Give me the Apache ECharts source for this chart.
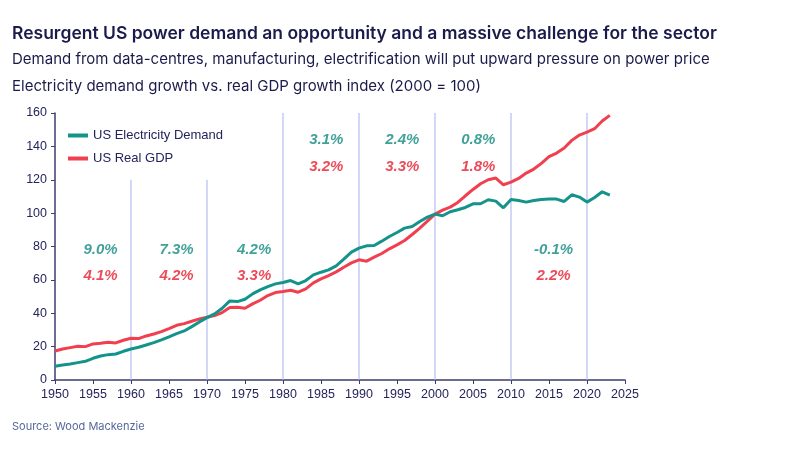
<!DOCTYPE html>
<html>
<head>
<meta charset="utf-8">
<script src="https://cdn.jsdelivr.net/npm/echarts@6/dist/echarts.min.js"></script>
<style>
  html, body { margin: 0; padding: 0; background: #fff; }
  #main { width: 800px; height: 450px; }
</style>
</head>
<body>
<div id="main"></div>
<script>
var years = [];
for (var y = 1950; y <= 2023; y++) years.push(y);

// index, 2000 = 100
var demand = [
    8.2, 9.0, 9.6, 10.4, 11.2, 13.0, 14.4, 15.2, 15.6, 17.2,
    18.6, 19.6, 21.0, 22.4, 24.0, 25.8, 27.8, 29.4, 32.0, 34.8,
    37.4, 39.6, 43.0, 47.4, 47.0, 48.4, 51.6, 54.0, 56.0, 57.6,
    58.4, 59.6, 57.6, 59.6, 63.0, 64.6, 66.0, 68.4, 72.4, 76.6,
    79.0, 80.4, 80.6, 83.2, 86.0, 88.4, 91.0, 92.0, 95.0, 97.6,
    99.4, 98.4, 100.8, 102.0, 103.4, 105.6, 105.6, 108.0, 107.2, 103.2,
    108.2, 107.6, 106.6, 107.6, 108.2, 108.4, 108.4, 107.0, 111.0, 109.6,
    106.6, 109.4, 112.8, 110.8
];
var gdp = [
    17.4, 18.6, 19.4, 20.2, 20.0, 21.6, 22.0, 22.6, 22.2, 23.8,
    25.0, 24.8, 26.4, 27.6, 29.0, 30.8, 32.8, 33.8, 35.2, 36.6,
    37.6, 38.6, 40.4, 43.4, 43.6, 43.0, 45.6, 47.8, 50.6, 52.4,
    53.0, 53.8, 52.6, 54.6, 58.2, 60.6, 62.6, 64.8, 67.6, 70.2,
    72.0, 71.2, 73.6, 75.8, 78.6, 81.0, 83.6, 87.2, 91.0, 95.2,
    99.4, 101.8, 103.6, 106.4, 110.4, 114.2, 117.6, 120.0, 121.0, 117.0,
    118.6, 120.8, 124.0, 126.4, 129.8, 133.8, 136.0, 139.0, 143.6, 146.8,
    148.6, 150.6, 155.2, 158.6
];

// decade dividers and how high each one goes
var dividerYears = [1960, 1970, 1980, 1990, 2000, 2010, 2020];
var dividerTops = [120, 120, 160, 160, 160, 160, 160];

// growth rate labels per period
var periodX = [1956, 1966, 1976.2, 1985.7, 1995.7, 2005.7, 2015.6];
var demandRates = ['9.0%', '7.3%', '4.2%', '3.1%', '2.4%', '0.8%', '-0.1%'];
var gdpRates = ['4.1%', '4.2%', '3.3%', '3.2%', '3.3%', '1.8%', '2.2%'];
var demandRateY = [78, 78, 78, 144, 144, 144, 78];
var gdpRateY = [62.5, 62.5, 62.5, 128, 128, 128, 62.5];

var teal = '#14938a';
var red = '#f0404f';
var navy = '#24245c';
var dividerColor = '#a7b0f0';

function pairs(xs, ys) {
    var out = [];
    for (var i = 0; i < xs.length; i++) out.push([xs[i], ys[i]]);
    return out;
}

function labelData(xs, ys, texts) {
    var out = [];
    for (var i = 0; i < xs.length; i++) out.push({ value: [xs[i], ys[i]], name: texts[i] });
    return out;
}

var rateLabel = function (color) {
    return {
        show: true,
        position: 'inside',
        formatter: '{b}',
        color: color,
        fontFamily: 'Arial, Liberation Sans',
        fontSize: 15,
        fontWeight: 'bold',
        fontStyle: 'italic'
    };
};

var series = [];

// thin vertical dividers, each a two-point line
for (var i = 0; i < dividerYears.length; i++) {
    series.push({
        name: 'divider' + dividerYears[i],
        type: 'line',
        data: [[dividerYears[i], 0], [dividerYears[i], dividerTops[i]]],
        symbol: 'none',
        silent: true,
        z: 1,
        lineStyle: { color: dividerColor, width: 1 },
        itemStyle: { color: dividerColor },
        emphasis: { disabled: true }
    });
}

series.push({
    name: 'US Electricity Demand',
    type: 'line',
    data: pairs(years, demand),
    symbol: 'none',
    lineStyle: { color: teal, width: 3 },
    itemStyle: { color: teal },
    z: 3
});
series.push({
    name: 'US Real GDP',
    type: 'line',
    data: pairs(years, gdp),
    symbol: 'none',
    lineStyle: { color: red, width: 3 },
    itemStyle: { color: red },
    z: 2
});
series.push({
    name: 'demand rates',
    type: 'scatter',
    symbolSize: 0,
    silent: true,
    data: labelData(periodX, demandRateY, demandRates),
    label: rateLabel('#118a80')
});
series.push({
    name: 'gdp rates',
    type: 'scatter',
    symbolSize: 0,
    silent: true,
    data: labelData(periodX, gdpRateY, gdpRates),
    label: rateLabel('#e61e2d')
});

var myChart = echarts.init(document.getElementById('main'));

var option = {
    backgroundColor: '#fff',
    animation: false,
    title: [
        {
            text: 'Resurgent US power demand an opportunity and a massive challenge for the sector',
            left: 7, top: 20,
            textStyle: { fontFamily: 'Inter', fontSize: 17.5, fontWeight: 600, color: '#1b1b4b' }
        },
        {
            text: 'Demand from data-centres, manufacturing, electrification will put upward pressure on power price',
            left: 7, top: 47,
            textStyle: { fontFamily: 'Inter', fontSize: 15, fontWeight: 400, color: '#1b1b4b' }
        },
        {
            text: 'Electricity demand growth vs. real GDP growth index (2000 = 100)',
            left: 7, top: 74,
            textStyle: { fontFamily: 'Inter', fontSize: 15, fontWeight: 400, color: '#1b1b4b' }
        },
        {
            text: 'Source: Wood Mackenzie',
            left: 7, top: 416,
            textStyle: { fontFamily: 'Inter', fontSize: 11, fontWeight: 400, color: '#56679a' }
        }
    ],
    legend: {
        data: ['US Electricity Demand', 'US Real GDP'],
        orient: 'vertical',
        left: 63,
        top: 124,
        itemWidth: 20,
        itemHeight: 4,
        itemGap: 10,
        icon: 'rect',
        textStyle: { fontFamily: 'Arial, Liberation Sans', fontSize: 13, color: navy }
    },
    grid: { left: 55, right: 175, top: 113, bottom: 70, containLabel: false },
    xAxis: {
        type: 'value',
        min: 1950,
        max: 2025,
        interval: 5,
        axisLine: { lineStyle: { color: '#3c3c6e', width: 1.5 } },
        axisTick: { show: true, length: 4, lineStyle: { color: '#3c3c6e' } },
        axisLabel: {
            color: navy, fontFamily: 'Arial, Liberation Sans', fontSize: 12.5, margin: 8,
            formatter: function (v) { return String(v); }
        },
        splitLine: { show: false }
    },
    yAxis: {
        type: 'value',
        min: 0,
        max: 160,
        interval: 20,
        axisLine: { show: true, lineStyle: { color: '#3c3c6e', width: 1.5 } },
        axisTick: { show: true, length: 4, lineStyle: { color: '#3c3c6e' } },
        axisLabel: { color: navy, fontFamily: 'Arial, Liberation Sans', fontSize: 12.5, margin: 8 },
        splitLine: { show: false }
    },
    series: series
};

myChart.setOption(option);
</script>
</body>
</html>
